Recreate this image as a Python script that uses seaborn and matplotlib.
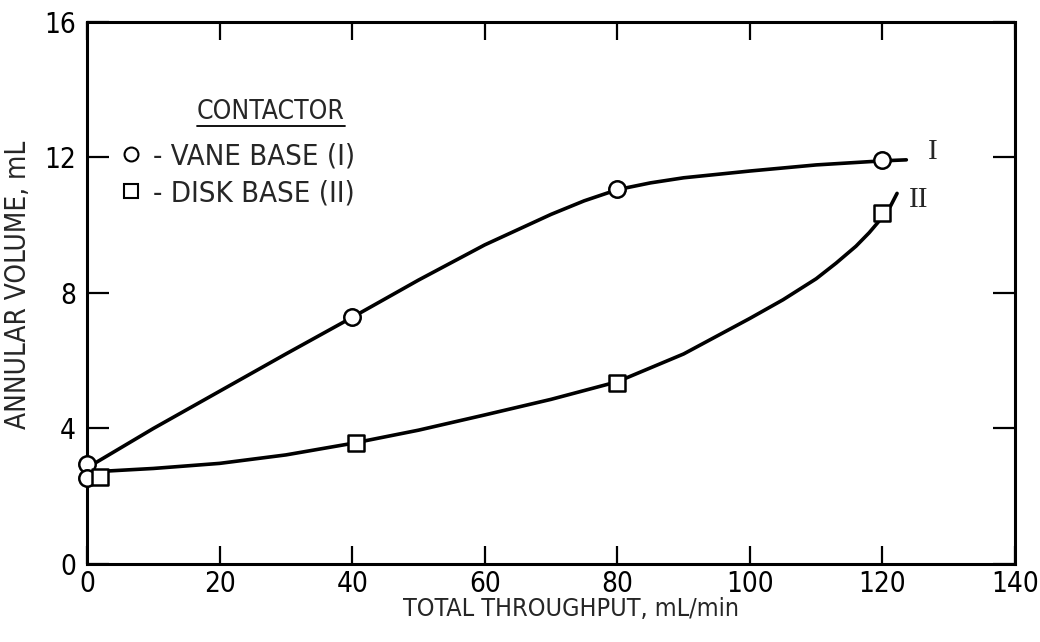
import matplotlib
matplotlib.use("Agg")
import matplotlib.pyplot as plt
from matplotlib.lines import Line2D
import seaborn as sns

# ---- data ----
vane_x = [0, 0, 40, 80, 120]
vane_y = [2.95, 2.55, 7.28, 11.08, 11.92]
disk_x = [2, 40.5, 80, 120]
disk_y = [2.58, 3.56, 5.35, 10.35]

# hand-drawn smooth curves
curve_I_x = [0.7, 10, 20, 30, 40, 50, 60, 70, 75, 80, 85, 90, 100, 110, 120, 123.6]
curve_I_y = [2.92, 4.0, 5.1, 6.2, 7.28, 8.38, 9.42, 10.32, 10.72, 11.05, 11.25, 11.4,
             11.6, 11.78, 11.9, 11.93]
curve_II_x = [0.8, 10, 20, 30, 40, 50, 60, 70, 80, 90, 100, 105, 110, 113, 116, 118,
              120, 121.2, 122.2]
curve_II_y = [2.72, 2.82, 2.97, 3.22, 3.56, 3.95, 4.4, 4.86, 5.38, 6.2, 7.25, 7.8,
              8.42, 8.88, 9.38, 9.78, 10.24, 10.56, 10.94]

x_ticks = [0, 20, 40, 60, 80, 100, 120, 140]
y_ticks = [0, 4, 8, 12, 16]
x_label = "TOTAL THROUGHPUT, mL/min"
y_label = "ANNULAR VOLUME, mL"
legend_title = "CONTACTOR"
legend_labels = ["- VANE BASE (I)", "- DISK BASE (II)"]
curve_names = ["I", "II"]

sns.set_theme(style="ticks")
FAM = ["DejaVu Sans", "Liberation Sans"]
plt.rcParams["font.family"] = FAM
plt.rcParams["font.stretch"] = "condensed"

fig = plt.figure(figsize=(10.4, 6.42), dpi=100)
ax = fig.add_axes([0.0837, 0.1215, 0.8923, 0.8443])

lw = 2.6
sns.lineplot(x=curve_I_x, y=curve_I_y, sort=False, color="black", lw=lw, ax=ax, zorder=2)
sns.lineplot(x=curve_II_x, y=curve_II_y, sort=False, color="black", lw=lw, ax=ax, zorder=2)

sns.scatterplot(x=vane_x, y=vane_y, marker="o", s=140, facecolor="white",
                edgecolor="black", linewidth=1.8, ax=ax, zorder=3, clip_on=False)
sns.scatterplot(x=disk_x, y=disk_y, marker="s", s=130, facecolor="white",
                edgecolor="black", linewidth=1.8, ax=ax, zorder=3, clip_on=False)

ax.set_xlim(0, 140)
ax.set_ylim(0, 16)
ax.set_xticks(x_ticks)
ax.set_yticks(y_ticks)
ax.set_xticklabels([str(t) for t in x_ticks])
ax.set_yticklabels([str(t) for t in y_ticks])

for s in ax.spines.values():
    s.set_visible(True)
    s.set_linewidth(2.2)
    s.set_color("black")

ax.tick_params(axis="x", which="major", direction="in", length=13, width=1.6,
               labelsize=20, pad=4, top=True, color="black", labelcolor="black")
ax.tick_params(axis="y", which="major", direction="in", length=16, width=1.6,
               labelsize=20, pad=8, right=True, color="black", labelcolor="black")

ax.set_xlabel(x_label, fontsize=18)
ax.set_ylabel(y_label, fontsize=20)
ax.xaxis.set_label_coords(0.521, -0.06)
ax.yaxis.set_label_coords(-0.059, 0.515)

# legend (entries) + underlined title
handles = [
    Line2D([], [], linestyle="none", marker="o", markersize=10, markerfacecolor="white",
           markeredgecolor="black", markeredgewidth=1.5),
    Line2D([], [], linestyle="none", marker="s", markersize=10, markerfacecolor="white",
           markeredgecolor="black", markeredgewidth=1.5),
]
leg = ax.legend(handles, legend_labels, loc="center left", bbox_to_anchor=(0.035, 0.718),
                frameon=False, fontsize=21, handlelength=0.8, handletextpad=0.35,
                labelspacing=0.3, borderaxespad=0, borderpad=0)

title = ax.text(0.198, 0.833, legend_title, transform=ax.transAxes, fontsize=19,
                ha="center", va="center")

# curve labels
ax.text(127.6, 12.15, curve_names[0], fontsize=21, family="Liberation Serif", va="center", ha="center")
ax.text(125.4, 10.75, curve_names[1], fontsize=21, family="Liberation Serif", va="center", ha="center")

# underline the legend title (from its rendered extent)
fig.canvas.draw()
tb = title.get_window_extent()
fig.add_artist(Line2D([tb.x0 / fig.bbox.width, tb.x1 / fig.bbox.width],
                      [(tb.y0 - 1) / fig.bbox.height] * 2,
                      transform=fig.transFigure, color="black", lw=1.3))

fig.savefig("out.png", dpi=100, facecolor="white")
